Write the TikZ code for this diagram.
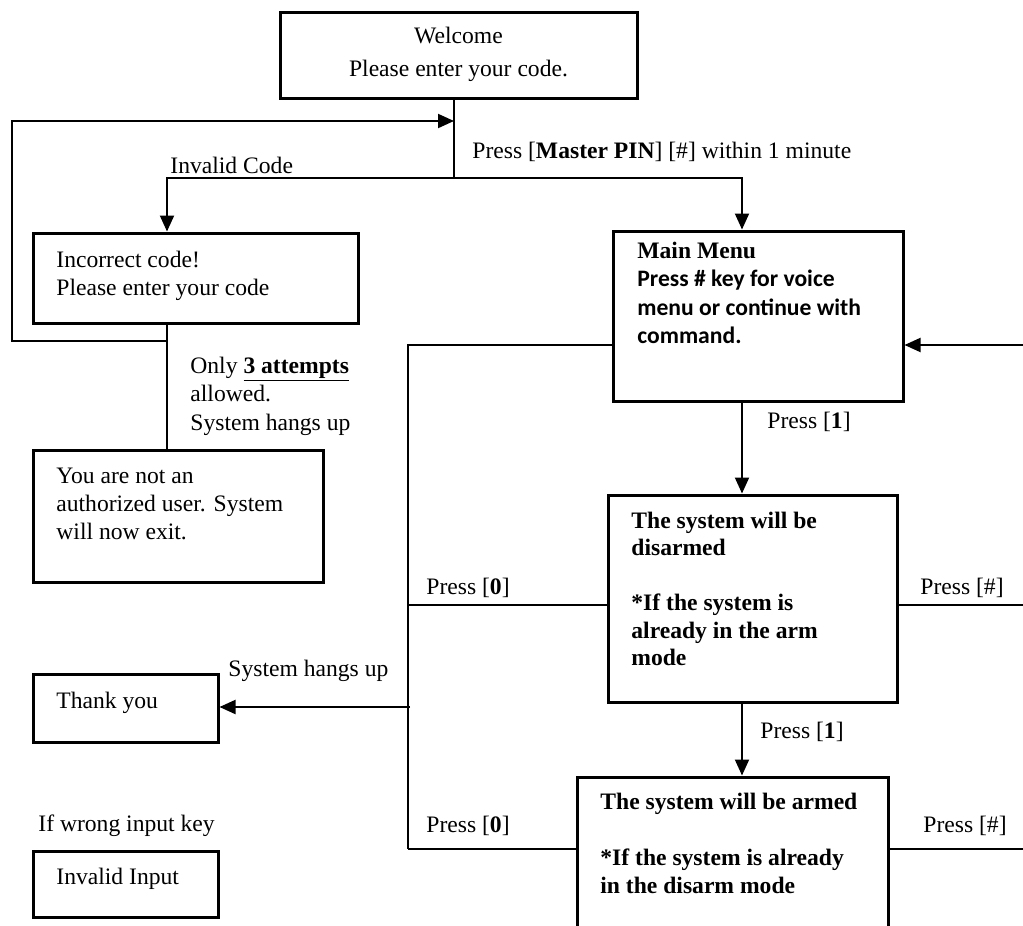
\documentclass[tikz,border=0pt]{standalone}
\usepackage{fontspec}
\setmainfont{Liberation Serif}
\newfontfamily\calib{Carlito}
\usetikzlibrary{arrows.meta}
\begin{document}
\begin{tikzpicture}[x=0.5pt,y=-0.5pt,
  every node/.style={font=\fontsize{11.8}{14}\selectfont, inner sep=0pt},
  box/.style n args={2}{draw, line width=1.5pt, minimum width=#1, minimum height=#2},
  txt/.style={anchor=base west},
  ctxt/.style={anchor=base},
  conn/.style={line width=1pt},
  arr/.style={conn, -{Triangle[length=8pt,width=7pt]}}]
\useasboundingbox (0,0) rectangle (1023,926);
\clip (0,0) rectangle (1023,926);

% boxes
\node[box={178.5pt}{43pt}] (welcome) at (458.5,55) {};
\node[box={162.5pt}{45pt}] (incorrect) at (195.5,278) {};
\node[box={145pt}{66pt}] (you) at (178,516) {};
\node[box={145pt}{85pt}] (mm) at (758,316) {};
\node[box={144.5pt}{103.5pt}] (disarm) at (752.5,598.5) {};
\node[box={155.5pt}{96.5pt}] (arm) at (732.5,873.5) {};
\node[box={92.5pt}{34pt}] (thank) at (125.5,708) {};
\node[box={92.5pt}{33pt}] (invalid) at (125.5,884) {};

% box texts
\node[ctxt] (w1) at (458.5,43) {Welcome};
\node[ctxt] (w2) at (458.5,76) {Please enter your code.};
\node[txt] (incT) at (56,267) {\vtop{\baselineskip=14pt\hbox{Incorrect code!}\hbox{Please enter your code}}};
\node[txt] (youT) at (56,483) {\vtop{\baselineskip=14pt\hbox{You are not an}\hbox{authorized user. System}\hbox{will now exit.}}};
\node[txt] (mmT) at (637,258) {\vtop{\baselineskip=14.25pt\hbox{\textbf{Main Menu}}\hbox{\calib\bfseries Press \# key for voice}\hbox{\calib\bfseries menu or continue with}\hbox{\calib\bfseries command.}}};
\node[txt] (disT) at (631,528) {\vtop{\baselineskip=13.75pt\bfseries\hbox{The system will be}\hbox{disarmed}\hbox{}\hbox{*If the system is}\hbox{already in the arm}\hbox{mode}}};
\node[txt] (armT) at (600,809) {\vtop{\baselineskip=14pt\bfseries\hbox{The system will be armed}\hbox{}\hbox{*If the system is already}\hbox{in the disarm mode}}};
\node[txt] (thankT) at (56,708) {Thank you};
\node[txt] (invT) at (56,884) {Invalid Input};

% coordinates
\coordinate (J1) at (454,178);
\coordinate (JL) at (167,178);
\coordinate (JR) at (742,178);
\coordinate (LP) at (167,341);
\coordinate (LA) at (12,341);
\coordinate (LB) at (12,121);
\coordinate (LT) at (454,121);
\coordinate (RIN) at (1023,345);
\coordinate (V1) at (408,345);
\coordinate (V2) at (408,849);
\coordinate (Y1) at (0,605);
\coordinate (R1) at (1023,605);
\coordinate (R2) at (1023,849);
\coordinate (X742) at (742,0);
\coordinate (T1) at (410,707);

% connectors
\draw[conn] (welcome.south -| J1) -- (J1);
\draw[arr] (J1) -- (JL) -- (incorrect.north -| JL);
\draw[arr] (J1) -- (JR) -- (mm.north -| JR);
\draw[conn] (incorrect.south -| JL) -- (you.north -| JL);
\draw[arr] (LP) -- (LA) -- (LB) -- (LT);
\draw[arr] (RIN) -- (mm.east |- RIN);
\draw[conn] (mm.west |- V1) -- (V1) -- (V2);
\draw[conn] (disarm.west |- Y1) -- (V1 |- Y1);
\draw[conn] (disarm.east |- R1) -- (R1);
\draw[arr] (mm.south -| X742) -- (disarm.north -| X742);
\draw[arr] (disarm.south -| X742) -- (arm.north -| X742);
\draw[conn] (arm.west |- R2) -- (V2);
\draw[conn] (arm.east |- R2) -- (R2);
\draw[arr] (T1) -- (thank.east |- T1);

% labels
\node[txt] (lInv) at (170,173) {Invalid Code};
\node[txt] (lMaster) at (472,158) {Press [\textbf{Master PIN}] [\#] within 1 minute};
\node[txt] (lOnly) at (190,373) {\vtop{\baselineskip=14.25pt\hbox{Only \underline{\textbf{3 attempts}}}\hbox{allowed.}\hbox{System hangs up}}};
\node[txt] (lP1a) at (767,428) {Press [\textbf{1}]};
\node[txt] (lP0a) at (426,594) {Press [\textbf{0}]};
\node[txt] (lPha) at (920,594) {Press [\#]};
\node[txt] (lP1b) at (760,738) {Press [\textbf{1}]};
\node[txt] (lP0b) at (426,832) {Press [\textbf{0}]};
\node[txt] (lPhb) at (923,832) {Press [\#]};
\node[txt] (lHang) at (228,676) {System hangs up};
\node[txt] (lWrong) at (38,831) {If wrong input key};
\end{tikzpicture}
\end{document}
